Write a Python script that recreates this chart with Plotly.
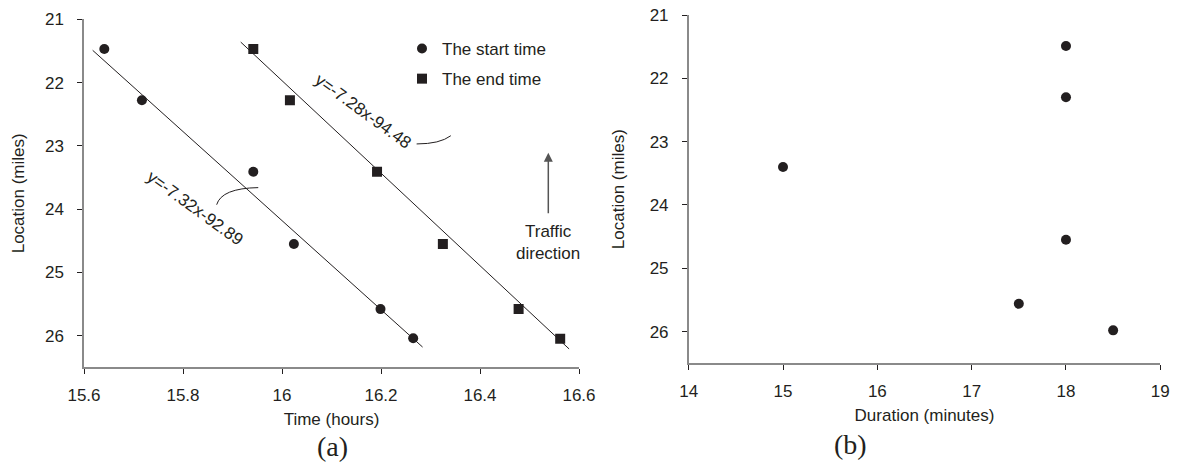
import plotly.graph_objects as go

# ---- data ----
start_time = [15.641, 15.717, 15.942, 16.024, 16.199, 16.265]
end_time = [15.942, 16.016, 16.192, 16.325, 16.478, 16.562]
location_a = [21.47, 22.28, 23.41, 24.55, 25.58, 26.04]
location_end = [21.47, 22.28, 23.41, 24.55, 25.58, 26.05]

start_fit_x = [15.6175, 16.284]
start_fit_y = [21.49, 26.18]
end_fit_x = [15.9166, 16.580]
end_fit_y = [21.36, 26.21]

duration_b = [18.0, 18.0, 15.0, 18.0, 17.5, 18.5]
location_b = [21.49, 22.30, 23.40, 24.55, 25.56, 25.98]

x_ticks_a = [15.6, 15.8, 16.0, 16.2, 16.4, 16.6]
x_ticklabels_a = ["15.6", "15.8", "16", "16.2", "16.4", "16.6"]
x_ticks_b = [14, 15, 16, 17, 18, 19]
y_ticks = [21, 22, 23, 24, 25, 26]

INK = "#231f20"
AXIS = "#8a8a8a"
FONT = "Arial, Liberation Sans, sans-serif"
SERIF = "Times New Roman, Liberation Serif, serif"

fig = go.Figure()

# fitted lines
fig.add_trace(go.Scatter(x=start_fit_x, y=start_fit_y, mode="lines",
                         line=dict(color=INK, width=1), showlegend=False,
                         xaxis="x", yaxis="y"))
fig.add_trace(go.Scatter(x=end_fit_x, y=end_fit_y, mode="lines",
                         line=dict(color=INK, width=1), showlegend=False,
                         xaxis="x", yaxis="y"))
# points
fig.add_trace(go.Scatter(x=start_time, y=location_a, mode="markers",
                         name="The start time", legendgroup="a",
                         marker=dict(symbol="circle", size=10, color=INK),
                         xaxis="x", yaxis="y"))
fig.add_trace(go.Scatter(x=end_time, y=location_end, mode="markers",
                         name="The end time", legendgroup="b",
                         marker=dict(symbol="square", size=10, color=INK),
                         xaxis="x", yaxis="y"))
fig.add_trace(go.Scatter(x=duration_b, y=location_b, mode="markers",
                         showlegend=False,
                         marker=dict(symbol="circle", size=10, color=INK),
                         xaxis="x2", yaxis="y2"))

axis_common = dict(showline=True, linecolor=AXIS, linewidth=1.5,
                   ticks="outside", ticklen=5, tickcolor=INK, tickwidth=1,
                   showgrid=False, zeroline=False, automargin=False,
                   tickfont=dict(family=FONT, size=17, color=INK),
                   title_font=dict(family=FONT, size=17, color=INK))

fig.update_layout(
    width=1181, height=471,
    margin=dict(l=0, r=0, t=0, b=0),
    paper_bgcolor="white", plot_bgcolor="white",
    font=dict(family=FONT, size=17, color=INK),
    xaxis=dict(domain=[84/1181, 579/1181], range=[15.6, 16.6],
               tickvals=x_ticks_a, ticktext=x_ticklabels_a,
               ticklabelstandoff=7,
               title=dict(text="Time (hours)", standoff=9), anchor="y", **axis_common),
    yaxis=dict(domain=[(471-367.3)/471, (471-19.3)/471], range=[26.5, 21],
               tickvals=y_ticks, ticklabelstandoff=10,
               title=dict(text="Location (miles)", standoff=16), anchor="x", **axis_common),
    xaxis2=dict(domain=[688.7/1181, 1160.3/1181], range=[14, 19],
                tickvals=x_ticks_b, ticklabelstandoff=7,
                title=dict(text="Duration (minutes)", standoff=9), anchor="y2", **axis_common),
    yaxis2=dict(domain=[(471-363.3)/471, (471-15)/471], range=[26.5, 21],
                tickvals=y_ticks, ticklabelstandoff=10,
                title=dict(text="Location (miles)", standoff=21), anchor="x2", **axis_common),
    legend=dict(x=402/1181, y=1-31/471, xanchor="left", yanchor="top",
                bgcolor="rgba(0,0,0,0)", font=dict(family=FONT, size=17, color=INK),
                tracegroupgap=5, itemwidth=30),
    showlegend=True,
)

annotations = [
    dict(text="y=-7.32x-92.89", x=15.825, y=23.99, xref="x", yref="y",
         showarrow=False, textangle=36, font=dict(size=17, color=INK)),
    dict(text="y=-7.28x-94.48", x=16.164, y=22.46, xref="x", yref="y",
         showarrow=False, textangle=36, font=dict(size=17, color=INK)),
    dict(text="", x=16.538, y=23.11, ax=16.538, ay=24.09, xref="x", yref="y",
         axref="x", ayref="y", showarrow=True, arrowhead=2, arrowsize=1.2,
         arrowwidth=1.5, arrowcolor="#555555"),
    dict(text="Traffic<br>direction", x=16.538, y=24.52, xref="x", yref="y",
         showarrow=False, font=dict(size=17, color=INK)),
    dict(text="(a)", x=332/1181, y=1-446/471, xref="paper", yref="paper",
         xanchor="center", yanchor="middle",
         showarrow=False, font=dict(family=SERIF, size=28, color=INK)),
    dict(text="(b)", x=850/1181, y=1-444/471, xref="paper", yref="paper",
         xanchor="center", yanchor="middle",
         showarrow=False, font=dict(family=SERIF, size=28, color=INK)),
]
fig.update_layout(annotations=annotations)

shapes = [
    dict(type="path", xref="x", yref="y",
         path="M 15.868 23.93 Q 15.878 23.67 15.952 23.66",
         line=dict(color=INK, width=1)),
    dict(type="path", xref="x", yref="y",
         path="M 16.272 22.97 Q 16.319 22.97 16.341 22.84",
         line=dict(color=INK, width=1)),
]
fig.update_layout(shapes=shapes)

fig.write_html("out.html", config={"displayModeBar": False},
               post_script="document.body.style.margin='0';document.body.style.padding='0';")
